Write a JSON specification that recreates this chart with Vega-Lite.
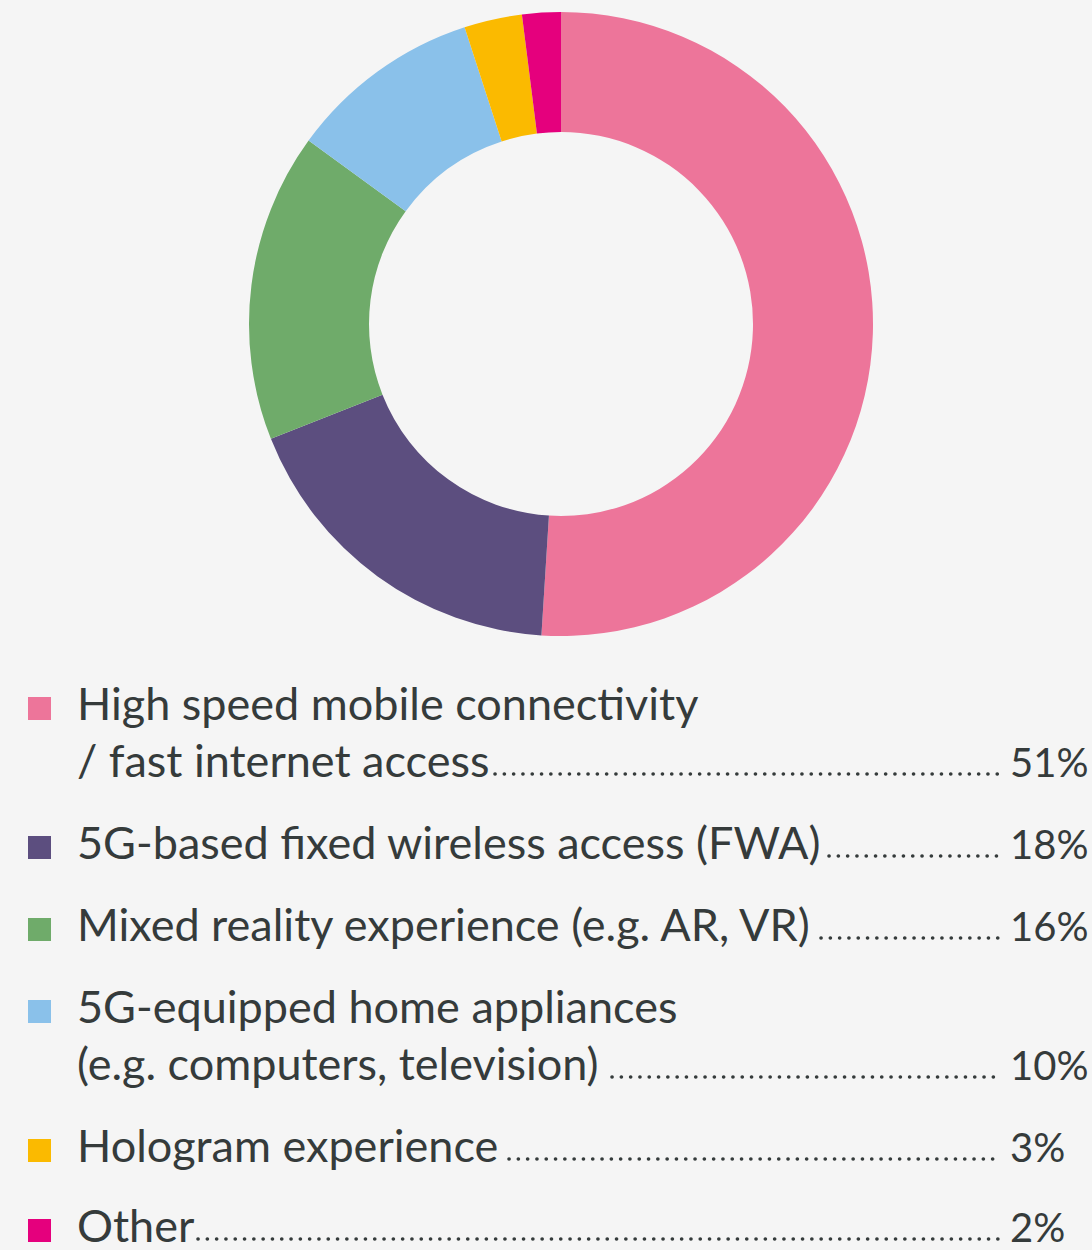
{
  "$schema": "https://vega.github.io/schema/vega-lite/v6.json",
  "background": "#f5f5f5",
  "padding": 0,
  "spacing": 0,
  "config": {"view": {"stroke": null}, "concat": {"spacing": 0}},
  "datasets": {
    "items": [
      {"category": "High speed mobile connectivity / fast internet access", "share": 0.51, "rank": 1, "markerY": 72, "lastY": 129, "leaderStart": 495},
      {"category": "5G-based fixed wireless access (FWA)", "share": 0.18, "rank": 2, "markerY": 211, "lastY": 211, "leaderStart": 829},
      {"category": "Mixed reality experience (e.g. AR, VR)", "share": 0.16, "rank": 3, "markerY": 293, "lastY": 293, "leaderStart": 821},
      {"category": "5G-equipped home appliances (e.g. computers, television)", "share": 0.10, "rank": 4, "markerY": 375, "lastY": 432, "leaderStart": 612},
      {"category": "Hologram experience", "share": 0.03, "rank": 5, "markerY": 514, "lastY": 514, "leaderStart": 509},
      {"category": "Other", "share": 0.02, "rank": 6, "markerY": 594, "lastY": 594, "leaderStart": 198}
    ],
    "lines": [
      {"category": "High speed mobile connectivity / fast internet access", "text": "High speed mobile connectivity", "y": 72},
      {"category": "High speed mobile connectivity / fast internet access", "text": "/ fast internet access", "y": 129},
      {"category": "5G-based fixed wireless access (FWA)", "text": "5G-based fixed wireless access (FWA)", "y": 211},
      {"category": "Mixed reality experience (e.g. AR, VR)", "text": "Mixed reality experience (e.g. AR, VR)", "y": 293},
      {"category": "5G-equipped home appliances (e.g. computers, television)", "text": "5G-equipped home appliances", "y": 375},
      {"category": "5G-equipped home appliances (e.g. computers, television)", "text": "(e.g. computers, television)", "y": 432},
      {"category": "Hologram experience", "text": "Hologram experience", "y": 514},
      {"category": "Other", "text": "Other", "y": 594}
    ]
  },
  "vconcat": [
    {
      "spacing": 0,
      "hconcat": [
        {
          "width": 30,
          "height": 648,
          "data": {"values": [{"t": ""}]},
          "mark": {"type": "text"},
          "encoding": {"text": {"field": "t"}}
        },
        {
          "width": 1062,
          "height": 648,
          "data": {"name": "items"},
          "mark": {"type": "arc", "innerRadius": 192, "outerRadius": 312},
          "encoding": {
            "theta": {"field": "share", "type": "quantitative", "stack": true},
            "order": {"field": "rank", "type": "quantitative"},
            "color": {
              "field": "category",
              "type": "nominal",
              "legend": null,
              "scale": {
                "domain": ["High speed mobile connectivity / fast internet access", "5G-based fixed wireless access (FWA)", "Mixed reality experience (e.g. AR, VR)", "5G-equipped home appliances (e.g. computers, television)", "Hologram experience", "Other"],
                "range": ["#ed759a", "#5c4e7f", "#6fab6a", "#8ac1ea", "#fbba00", "#e5007d"]
              }
            }
          }
        }
      ]
    },
    {
      "width": 1092,
      "height": 602,
      "layer": [
        {
          "data": {"name": "items"},
          "mark": {"type": "square", "size": 529, "filled": true, "opacity": 1, "yOffset": -11.5},
          "encoding": {
            "x": {"datum": 39.5, "type": "quantitative", "scale": {"domain": [0, 1092], "range": [0, 1092], "nice": false, "zero": false}, "axis": null},
            "y": {"field": "markerY", "type": "quantitative", "scale": {"domain": [0, 602], "range": [0, 602], "nice": false, "zero": false}, "axis": null},
            "color": {"field": "category", "type": "nominal", "legend": null}
          }
        },
        {
          "data": {"name": "lines"},
          "mark": {"type": "text", "align": "left", "baseline": "alphabetic", "font": "Lato", "fontSize": 45, "color": "#353b3b"},
          "encoding": {
            "x": {"datum": 77, "type": "quantitative"},
            "y": {"field": "y", "type": "quantitative"},
            "text": {"field": "text"}
          }
        },
        {
          "data": {"name": "items"},
          "mark": {"type": "rule", "strokeDash": [0.1, 9.2], "strokeCap": "round", "strokeWidth": 3.6, "color": "#353b3b", "yOffset": -3},
          "encoding": {
            "x": {"field": "leaderStart", "type": "quantitative"},
            "x2": {"datum": 1001},
            "y": {"field": "lastY", "type": "quantitative"}
          }
        },
        {
          "data": {"name": "items"},
          "mark": {"type": "text", "align": "left", "baseline": "alphabetic", "font": "Lato", "fontSize": 40, "color": "#353b3b"},
          "encoding": {
            "x": {"datum": 1010, "type": "quantitative"},
            "y": {"field": "lastY", "type": "quantitative"},
            "text": {"field": "share", "type": "quantitative", "format": ".0%"}
          }
        }
      ]
    }
  ]
}
